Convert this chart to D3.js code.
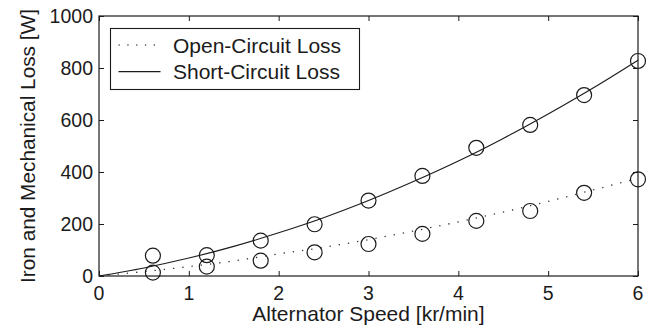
<!DOCTYPE html>
<html>
<head>
<meta charset="utf-8">
<script src="https://cdn.jsdelivr.net/npm/d3@7/dist/d3.min.js"></script>
<style>
	html, body { margin: 0; padding: 0; background: #fff; }
	svg { display: block; font-family: "Liberation Sans", Arial, Helvetica, sans-serif; }
</style>
</head>
<body>
<script>

// measured points (markers)
var speed       = [0.6, 1.2, 1.8, 2.4, 3.0, 3.6, 4.2, 4.8, 5.4, 6.0];
var openLoss    = [13, 36, 59, 91, 123, 162, 212, 250, 320, 372];
var shortLoss   = [78, 80, 136, 199, 290, 385, 493, 581, 696, 827];

// fitted curves
var curveSpeed  = [0, 0.5, 1, 1.5, 2, 2.5, 3, 3.5, 4, 4.5, 5, 5.5, 6];
var openFit     = [0, 17, 36, 58, 85, 110, 140, 173, 208, 246, 287, 331, 376];
var shortFit    = [0, 31, 69, 114, 166, 224, 290, 363, 442, 529, 623, 723, 830];

var xTicks      = [0, 1, 2, 3, 4, 5, 6];
var yTicks      = [0, 200, 400, 600, 800, 1000];
var legendNames = ["Open-Circuit Loss", "Short-Circuit Loss"];

var W = 655, H = 327;
var margin = { left: 99, right: 17, top: 16, bottom: 51 };
var ink = "#1b1b1b";

var svg = d3.select("body").append("svg")
	.attr("width", W)
	.attr("height", H);

var xScale = d3.scaleLinear().domain([0, 6]).range([margin.left, W - margin.right]);
var yScale = d3.scaleLinear().domain([0, 1000]).range([H - margin.bottom, margin.top]);

var x0 = xScale.range()[0], x1 = xScale.range()[1];
var y0 = yScale.range()[0], y1 = yScale.range()[1];

// box with inward ticks on all sides (matlab style)
svg.append("g")
	.attr("transform", "translate(0," + y0 + ")")
	.call(d3.axisTop(xScale).tickValues(xTicks).tickSize(5).tickFormat(""))
	.call(function(g) { g.select(".domain").remove(); });
svg.append("g")
	.attr("transform", "translate(0," + y1 + ")")
	.call(d3.axisBottom(xScale).tickValues(xTicks).tickSize(5).tickFormat(""))
	.call(function(g) { g.select(".domain").remove(); });
svg.append("g")
	.attr("transform", "translate(" + x0 + ",0)")
	.call(d3.axisRight(yScale).tickValues(yTicks).tickSize(5).tickFormat(""))
	.call(function(g) { g.select(".domain").remove(); });
svg.append("g")
	.attr("transform", "translate(" + x1 + ",0)")
	.call(d3.axisLeft(yScale).tickValues(yTicks).tickSize(5).tickFormat(""))
	.call(function(g) { g.select(".domain").remove(); });

svg.selectAll(".tick line").attr("stroke", ink).attr("stroke-width", 1);

svg.append("rect")
	.attr("x", x0).attr("y", y1)
	.attr("width", x1 - x0).attr("height", y0 - y1)
	.attr("fill", "none")
	.attr("stroke", ink)
	.attr("stroke-width", 1.2);

// tick labels
svg.selectAll(".xlab")
	.data(xTicks)
	.enter()
	.append("text")
		.attr("class", "xlab")
		.attr("x", function(d) { return xScale(d); })
		.attr("y", y0 + 23.5)
		.attr("text-anchor", "middle")
		.attr("font-size", 19.5)
		.attr("fill", ink)
		.text(function(d) { return d; });

svg.selectAll(".ylab")
	.data(yTicks)
	.enter()
	.append("text")
		.attr("class", "ylab")
		.attr("x", x0 - 6)
		.attr("y", function(d) { return yScale(d) + 7; })
		.attr("text-anchor", "end")
		.attr("font-size", 19.5)
		.attr("fill", ink)
		.text(function(d) { return d; });

// axis captions
svg.append("text")
	.attr("x", (x0 + x1) / 2)
	.attr("y", 320.5)
	.attr("text-anchor", "middle")
	.attr("font-size", 21)
	.attr("fill", ink)
	.text("Alternator Speed [kr/min]");

svg.append("text")
	.attr("transform", "translate(35," + ((y0 + y1) / 2) + ") rotate(-90)")
	.attr("text-anchor", "middle")
	.attr("font-size", 20.8)
	.attr("fill", ink)
	.text("Iron and Mechanical Loss [W]");

// curves
var line = d3.line()
	.x(function(d) { return xScale(d[0]); })
	.y(function(d) { return yScale(d[1]); })
	.curve(d3.curveMonotoneX);

svg.append("path")
	.datum(d3.zip(curveSpeed, openFit))
	.attr("d", line)
	.attr("fill", "none")
	.attr("stroke", "#333")
	.attr("stroke-width", 1.3)
	.attr("stroke-dasharray", "1.3,8");

svg.append("path")
	.datum(d3.zip(curveSpeed, shortFit))
	.attr("d", line)
	.attr("fill", "none")
	.attr("stroke", ink)
	.attr("stroke-width", 1.1);

// markers
function drawMarkers(values, cls)
{
	svg.selectAll("." + cls)
		.data(d3.zip(speed, values))
		.enter()
		.append("circle")
			.attr("class", cls)
			.attr("cx", function(d) { return xScale(d[0]); })
			.attr("cy", function(d) { return yScale(d[1]); })
			.attr("r", 7.5)
			.attr("fill", "none")
			.attr("stroke", ink)
			.attr("stroke-width", 1.2);
}
drawMarkers(openLoss, "mk-open");
drawMarkers(shortLoss, "mk-short");

// legend
var legend = svg.append("g").attr("transform", "translate(110.5,28.5)");

legend.append("rect")
	.attr("width", 249)
	.attr("height", 61)
	.attr("fill", "#fff")
	.attr("stroke", ink)
	.attr("stroke-width", 1.1);

var rows = legend.selectAll(".lrow")
	.data(legendNames)
	.enter()
	.append("g")
		.attr("class", "lrow")
		.attr("transform", function(d, i) { return "translate(0," + (16.5 + i * 26.6) + ")"; });

rows.append("line")
	.attr("x1", 8).attr("x2", 50)
	.attr("stroke", function(d, i) { return i === 0 ? "#555" : ink; })
	.attr("stroke-width", function(d, i) { return i === 0 ? 1.3 : 1.1; })
	.attr("stroke-dasharray", function(d, i) { return i === 0 ? "1.3,7.5" : null; });

rows.append("text")
	.attr("x", 62.5)
	.attr("y", 7.7)
	.attr("font-size", 21)
	.attr("fill", ink)
	.text(function(d) { return d; });

</script>
</body>
</html>
